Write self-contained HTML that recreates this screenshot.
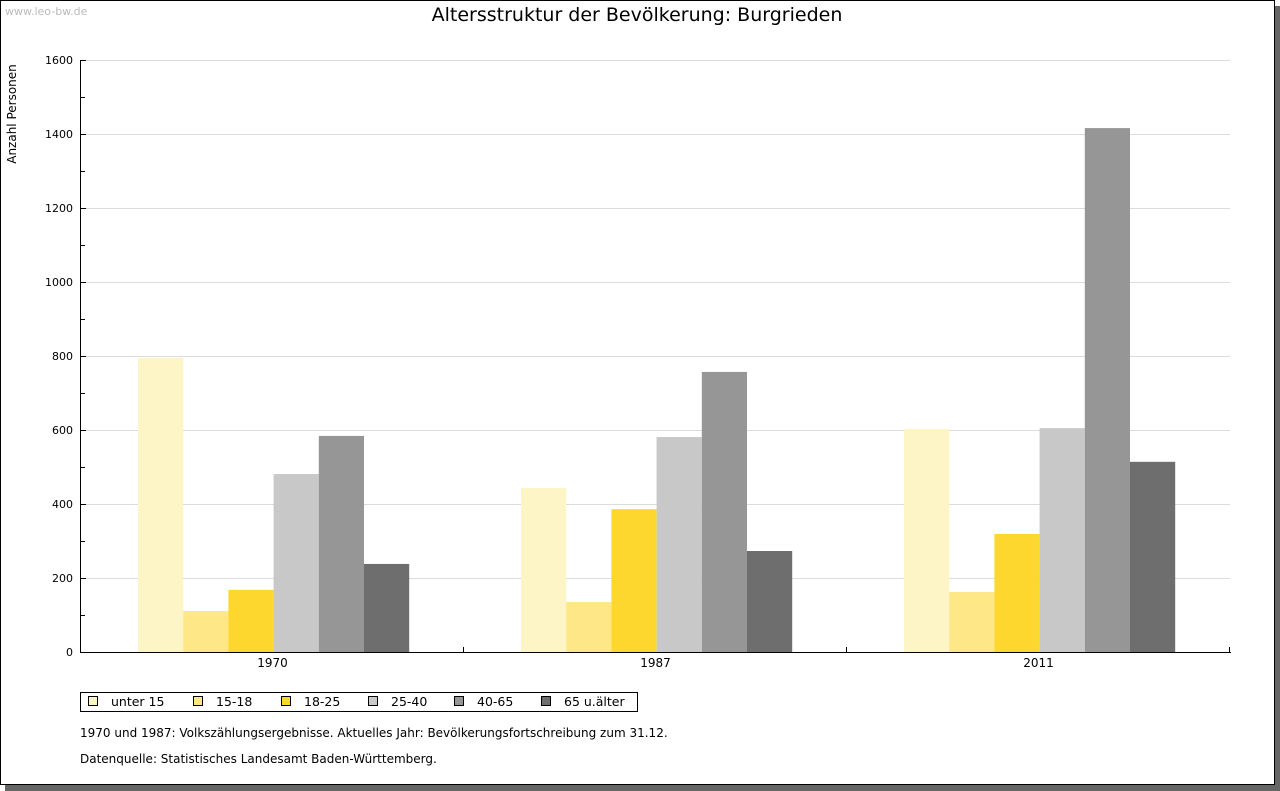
<!DOCTYPE html>
<html><head><meta charset="utf-8"><style>
body{margin:0;background:#fff}
svg{display:block;font-family:"DejaVu Sans","Liberation Sans",sans-serif}
</style></head><body>
<svg width="1280" height="791">
<rect x="5" y="6" width="1275" height="785" fill="#666"/>
<rect x="0.5" y="0.5" width="1274" height="784" fill="#fff" stroke="#000"/>
<text x="5" y="15" font-size="11" fill="#bbb">www.leo-bw.de</text>
<text x="637" y="21" font-size="19" text-anchor="middle">Altersstruktur der Bevölkerung: Burgrieden</text>
<text transform="translate(16,114) rotate(-90)" font-size="12" text-anchor="middle">Anzahl Personen</text>
<g id="grid"></g><g id="bars"></g><g id="axes"></g>
<g id="legend">
<rect x="80.5" y="692.5" width="557" height="19" fill="#fff" stroke="#000"/>
</g>
<text x="80" y="737" font-size="12">1970 und 1987: Volkszählungsergebnisse. Aktuelles Jahr: Bevölkerungsfortschreibung zum 31.12.</text>
<text x="80" y="763" font-size="12">Datenquelle: Statistisches Landesamt Baden-Württemberg.</text>
</svg>
<script>
const categories=["1970","1987","2011"];
const seriesNames=["unter 15","15-18","18-25","25-40","40-65","65 u.älter"];
const colors=["#fdf5c6","#fde786","#fed72e","#c8c8c8","#969696","#6e6e6e"];
const s_unter15=[795,443,603];
const s_15_18=[111,135,162];
const s_18_25=[168,386,319];
const s_25_40=[481,581,605];
const s_40_65=[584,757,1416];
const s_65=[238,273,514];
const yTicks=[0,200,400,600,800,1000,1200,1400,1600];
const series=[s_unter15,s_15_18,s_18_25,s_25_40,s_40_65,s_65];
const NS="http://www.w3.org/2000/svg";
const X0=81,X1=1230,Y0=652,Y1=60,YMAX=1600;
const y=v=>Y0-(v/YMAX)*(Y0-Y1);
const gw=(X1-X0)/categories.length, bw=45.2, off=57;
function mk(tag,attrs,parent){const e=document.createElementNS(NS,tag);for(const k in attrs)e.setAttribute(k,attrs[k]);parent.appendChild(e);return e;}
const grid=document.getElementById('grid'),bars=document.getElementById('bars'),axes=document.getElementById('axes'),legend=document.getElementById('legend');
yTicks.forEach((t,i)=>{
  if(t>0){const l=mk('line',{x1:X0,x2:X1,y1:y(t)+.5,y2:y(t)+.5,stroke:'#dcdcdc'},grid);
  
  }
  const tk=mk('line',{x1:X0,x2:X0+5,y1:y(t)+.5,y2:y(t)+.5,stroke:'#000'},axes);
  
  
  const tx=mk('text',{x:73,y:y(t)+4,'font-size':11,'text-anchor':'end'},axes);tx.textContent=t;
  
  
  if(i<yTicks.length-1){const m=mk('line',{x1:X0,x2:X0+4,y1:Math.round(y(t+100))+.5,y2:Math.round(y(t+100))+.5,stroke:'#000'},axes);
  
  }
});
series.forEach((s,si)=>{s.forEach((v,ci)=>{
  const r=mk('rect',{x:X0+ci*gw+off+si*bw,y:y(v),width:bw,height:Y0-y(v),fill:colors[si]},bars);
  
  
});});
const ya=mk('line',{x1:X0-.5,x2:X0-.5,y1:Y1,y2:Y0+1,stroke:'#000'},axes);


const xa=mk('line',{x1:X0-1,x2:X1+1,y1:Y0+.5,y2:Y0+.5,stroke:'#000'},axes);


categories.forEach((c,ci)=>{
  const tk=mk('line',{x1:Math.round(X0+(ci+1)*gw)-.5,x2:Math.round(X0+(ci+1)*gw)-.5,y1:Y0-5,y2:Y0,stroke:'#000'},axes);
  
  
  const t=mk('text',{x:X0+ci*gw+gw/2,y:667,'font-size':12,'text-anchor':'middle'},axes);t.textContent=c;
  
  
});
const lx=[88,193,281,368,454,541];
seriesNames.forEach((n,i)=>{
  const r=mk('rect',{x:lx[i]+.5,y:696.5,width:9,height:9,fill:colors[i],stroke:'#000'},legend);
  
  
  const t=mk('text',{x:lx[i]+23,y:706,'font-size':12.5},legend);t.textContent=n;
  
  
});
</script>
</body></html>
